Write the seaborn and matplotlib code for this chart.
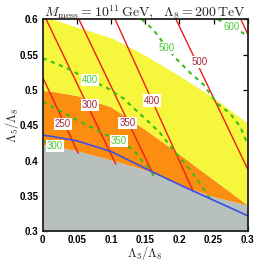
import numpy as np
import pandas as pd
import seaborn as sns
import matplotlib.pyplot as plt
from matplotlib.ticker import FuncFormatter, MultipleLocator

# region boundaries (Lambda3/Lambda8 -> Lambda5/Lambda8)
x_grid = [0, 0.015, 0.05, 0.1, 0.15, 0.2, 0.25, 0.3]
gray_top = [0.423, 0.421, 0.414, 0.401, 0.387, 0.366, 0.349, 0.337]
orange_top = [0.499, 0.498, 0.492, 0.476, 0.444, 0.409, 0.373, 0.337]
yellow_top = [0.61, 0.6, 0.589, 0.574, 0.549, 0.52, 0.489, 0.453]
blue_y = [0.436, 0.434, 0.428, 0.413, 0.389, 0.366, 0.344, 0.322]

# red contours (straight lines)
red_levels = [250, 300, 350, 400, 500, 600]
red_x0 = [0.0, 0.005, 0.053, 0.106, 0.195, 0.290]
red_y0 = [0.518, 0.6, 0.6, 0.6, 0.6, 0.6]
red_x1 = [0.052, 0.107, 0.162, 0.2205, 0.3, 0.3]
red_y1 = [0.4105, 0.395, 0.380, 0.356, 0.388, 0.579]
red_lab = ['250', '300', '350', '400', '500']
red_lab_x = [0.0297, 0.0694, 0.124, 0.1596, 0.229]
red_lab_y = [0.452, 0.479, 0.453, 0.485, 0.540]

# green dashed contours
g300_x = [0, 0.03]
g300_y = [0.428, 0.418]
g350_x = [0, 0.011, 0.045, 0.094, 0.112, 0.133, 0.1425, 0.157, 0.163]
g350_y = [0.483, 0.478, 0.46, 0.436, 0.428, 0.415, 0.403, 0.387, 0.378]
g400_x = [0, 0.035, 0.069, 0.094, 0.118, 0.157, 0.172, 0.191, 0.2157, 0.23, 0.245]
g400_y = [0.545, 0.531, 0.514, 0.503, 0.488, 0.453, 0.439, 0.415, 0.387, 0.368, 0.346]
g500_x = [0.145, 0.162, 0.18, 0.194, 0.216, 0.235, 0.255, 0.274, 0.289, 0.3]
g500_y = [0.6, 0.585, 0.562, 0.5455, 0.524, 0.508, 0.481, 0.467, 0.448, 0.423]
g600_x = [0.256, 0.277, 0.3]
g600_y = [0.6, 0.589, 0.577]
green_lab = ['300', '350', '400', '500', '600']
green_lab_x = [0.018, 0.1117, 0.0693, 0.1815, 0.2767]
green_lab_y = [0.421, 0.428, 0.514, 0.559, 0.589]

sns.set_style("ticks")
plt.rcParams['font.family'] = ['Liberation Sans', 'DejaVu Sans']
plt.rcParams['mathtext.fontset'] = 'cm'

fig = plt.figure(figsize=(2.56, 2.61), dpi=100)
ax = fig.add_axes([0.1668, 0.1138, 0.8008, 0.8123])

ax.fill_between(x_grid, 0.3, gray_top, color='#b7bfbf', lw=0, zorder=1)
ax.fill_between(x_grid, gray_top, orange_top, color='#fb8d10', lw=0, zorder=1)
ax.fill_between(x_grid, orange_top, yellow_top, color='#f6f63c', lw=0, zorder=1)

sns.lineplot(x=x_grid, y=blue_y, color='#3a50e6', lw=1.2, ax=ax, zorder=3)

red_df = pd.DataFrame({
    'level': red_levels * 2,
    'x': red_x0 + red_x1,
    'y': red_y0 + red_y1,
})
sns.lineplot(data=red_df, x='x', y='y', units='level', estimator=None, sort=False,
             color='#f21c1c', lw=1.0, ax=ax, zorder=2)

green_df = pd.concat([
    pd.DataFrame({'level': lv, 'x': gx, 'y': gy})
    for lv, gx, gy in [(300, g300_x, g300_y), (350, g350_x, g350_y), (400, g400_x, g400_y),
                       (500, g500_x, g500_y), (600, g600_x, g600_y)]
])
sns.lineplot(data=green_df, x='x', y='y', units='level', estimator=None, sort=False,
             color='#3dbb16', lw=1.5, linestyle=(0, (2, 2.2)), ax=ax, zorder=2)

box = dict(boxstyle='square,pad=0.12', fc='white', ec='none')
for s, tx, ty in zip(red_lab, red_lab_x, red_lab_y):
    ax.text(tx, ty, s, ha='center', va='center', fontsize=7, color='#a3283a', bbox=box, zorder=5)
for s, tx, ty in zip(green_lab, green_lab_x, green_lab_y):
    ax.text(tx, ty, s, ha='center', va='center', fontsize=7, color='#4ccc33', bbox=box, zorder=5)

ax.set_xlim(0, 0.3)
ax.set_ylim(0.3, 0.6)
ax.xaxis.set_major_locator(MultipleLocator(0.05))
ax.yaxis.set_major_locator(MultipleLocator(0.05))
fmt = FuncFormatter(lambda v, p: '%g' % round(v, 3))
ax.xaxis.set_major_formatter(fmt)
ax.yaxis.set_major_formatter(fmt)
ax.tick_params(direction='in', top=True, right=True, length=3.5, width=0.9,
               labelsize=7, pad=3, colors='black')
for lab in ax.get_xticklabels() + ax.get_yticklabels():
    lab.set_fontweight('bold')
for sp in ax.spines.values():
    sp.set_linewidth(1.3)
    sp.set_color('#222222')
    sp.set_zorder(6)

ax.set_xlabel(r'$\Lambda_3/\Lambda_8$', fontsize=9)
ax.set_ylabel(r'$\Lambda_5/\Lambda_8$', fontsize=9)
ax.xaxis.set_label_coords(0.5, -0.062)
ax.yaxis.set_label_coords(-0.105, 0.5)
fig.text(0.568, 0.955, r'$M_{\rm mess}=10^{11}\,{\rm GeV},\ \ \Lambda_8=200\,{\rm TeV}$',
         ha='center', va='center', fontsize=10)

fig.savefig('out.png', dpi=100)
